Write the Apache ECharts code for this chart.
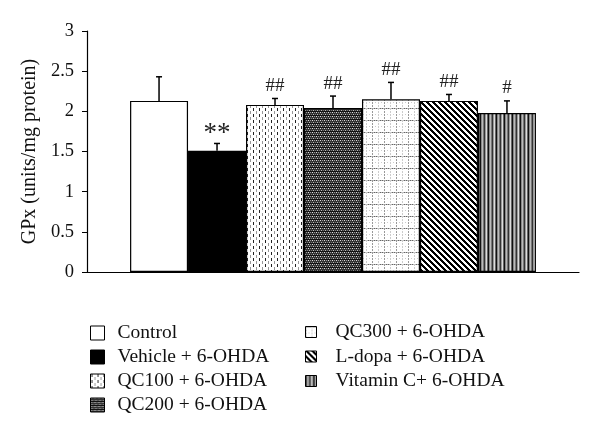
<!DOCTYPE html>
<html>
<head>
<meta charset="utf-8">
<script src="https://cdn.jsdelivr.net/npm/echarts@6/dist/echarts.min.js"></script>
<style>html,body{margin:0;padding:0;background:#fff}#c{width:600px;height:433px}</style>
</head>
<body>
<div id="c"></div>
<script>
var groups = ['Control', 'Vehicle + 6-OHDA', 'QC100 + 6-OHDA', 'QC200 + 6-OHDA', 'QC300 + 6-OHDA', 'L-dopa + 6-OHDA', 'Vitamin C+ 6-OHDA'];
var means = [2.13, 1.51, 2.08, 2.04, 2.15, 2.13, 1.98];
var errTops = [2.43, 1.60, 2.16, 2.19, 2.36, 2.21, 2.13];
var marks = ['', '**', '##', '##', '##', '##', '#'];
var yTicks = [0, 0.5, 1, 1.5, 2, 2.5, 3];

function pat(w, h, draw) {
  var c = document.createElement('canvas');
  c.width = w; c.height = h;
  var g = c.getContext('2d');
  draw(g, w, h);
  return { image: c, repeat: 'repeat' };
}
function px(g, x, y, col) { g.fillStyle = col; g.fillRect(x, y, 1, 1); }

var fills = [
  '#ffffff',
  '#000000',
  pat(6, 6, function (g) {
    g.fillStyle = '#fff'; g.fillRect(0, 0, 6, 6);
    for (var y = 0; y < 3; y++) px(g, 1, y, '#222');
    for (var y2 = 3; y2 < 6; y2++) px(g, 4, y2, '#999');
  }),
  pat(4, 4, function (g) {
    g.fillStyle = '#333'; g.fillRect(0, 0, 4, 4);
    px(g, 0, 0, '#ddd'); px(g, 2, 0, '#999');
    px(g, 1, 2, '#bbb'); px(g, 3, 2, '#777');
    px(g, 0, 3, '#111'); px(g, 1, 3, '#111'); px(g, 2, 3, '#111'); px(g, 3, 3, '#111');
  }),
  pat(12, 12, function (g) {
    g.fillStyle = '#fff'; g.fillRect(0, 0, 12, 12);
    for (var x = 0; x < 12; x++) { px(g, x, 0, x % 2 ? '#bbb' : '#666'); px(g, x, 6, x % 3 ? '#fff' : '#ccc'); }
    for (var y = 0; y < 12; y++) { if (y % 3 !== 2) { px(g, 0, y, '#999'); px(g, 6, y, '#ccc'); } }
  }),
  pat(6, 6, function (g) {
    g.fillStyle = '#fff'; g.fillRect(0, 0, 6, 6);
    for (var x = 0; x < 6; x++) for (var y = 0; y < 6; y++) {
      var d = ((x - y) % 6 + 6) % 6;
      if (d < 3) px(g, x, y, '#000');
    }
  }),
  pat(8, 1, function (g) {
    var cols = ['#111', '#888', '#bbb', '#777', '#333', '#999', '#ddd', '#666'];
    for (var x = 0; x < 8; x++) px(g, x, 0, cols[x]);
  })
];

var GAP = 0.175;
var series = groups.map(function (name, i) {
  return {
    name: name,
    type: 'bar',
    barGap: '0%',
    barCategoryGap: (GAP * 100) + '%',
    data: [means[i]],
    itemStyle: { color: fills[i], borderColor: '#000', borderWidth: 1.2 },
    silent: true
  };
});

series.push({
  type: 'custom',
  name: 'err',
  silent: true,
  z: 5,
  data: groups.map(function (g, i) { return [i, means[i], errTops[i]]; }),
  renderItem: function (params, api) {
    var i = api.value(0);
    var base = api.coord([0, api.value(1)]);
    var top = api.coord([0, api.value(2)]);
    var band = api.size([1, 0])[0];
    var bw = band * (1 - GAP) / groups.length;
    var x = base[0] + (i - (groups.length - 1) / 2) * bw;
    var children = [
      { type: 'line', shape: { x1: x, y1: base[1], x2: x, y2: top[1] }, style: { stroke: '#000', lineWidth: 1.5 } },
      { type: 'line', shape: { x1: x - 3, y1: top[1], x2: x + 3, y2: top[1] }, style: { stroke: '#000', lineWidth: 1.5 } }
    ];
    var m = marks[i];
    if (m) {
      children.push({
        type: 'text',
        style: {
          text: m, x: x, y: m === '**' ? top[1] + 4 : top[1] - 3, align: 'center', verticalAlign: 'bottom',
          fill: '#222', font: (m === '**' ? '27px' : '19px') + ' "Liberation Serif", serif'
        }
      });
    }
    return { type: 'group', children: children };
  }
});

var legendText = { fontFamily: 'Liberation Serif', fontSize: 19.5, color: '#111', lineHeight: 20 };

var chart = echarts.init(document.getElementById('c'), null, { renderer: 'canvas' });
chart.setOption({
  animation: false,
  backgroundColor: '#fff',
  grid: { left: 87, right: 21, top: 31, bottom: 161 },
  xAxis: {
    type: 'category',
    data: ['GPx'],
    axisLine: { lineStyle: { color: '#000', width: 1.2 } },
    axisTick: { show: false },
    axisLabel: { show: false }
  },
  yAxis: {
    type: 'value',
    min: yTicks[0],
    max: yTicks[yTicks.length - 1],
    interval: 0.5,
    name: 'GPx (units/mg protein)',
    nameLocation: 'middle',
    nameGap: 46,
    nameTextStyle: { fontFamily: 'Liberation Serif', fontSize: 20, color: '#111' },
    axisLine: { show: true, lineStyle: { color: '#000', width: 1.2 } },
    axisTick: { show: true, inside: false, length: 5, lineStyle: { color: '#000' } },
    splitLine: { show: false },
    axisLabel: { fontFamily: 'Liberation Serif', fontSize: 18.5, color: '#111', margin: 13 }
  },
  legend: [
    {
      data: groups.slice(0, 4),
      orient: 'vertical',
      left: 85, top: 318,
      itemWidth: 14, itemHeight: 14, itemGap: 4,
      icon: 'rect',
      itemStyle: { borderColor: '#000', borderWidth: 1 },
      textStyle: Object.assign({ padding: [0, 0, 0, 8] }, legendText),
      selectedMode: false
    },
    {
      data: groups.slice(4),
      orient: 'vertical',
      left: 300, top: 317,
      itemWidth: 11, itemHeight: 11, itemGap: 4.5,
      icon: 'rect',
      itemStyle: { borderColor: '#000', borderWidth: 1 },
      textStyle: Object.assign({ padding: [0, 0, 0, 14] }, legendText),
      selectedMode: false
    }
  ],
  series: series
});
</script>
</body>
</html>
